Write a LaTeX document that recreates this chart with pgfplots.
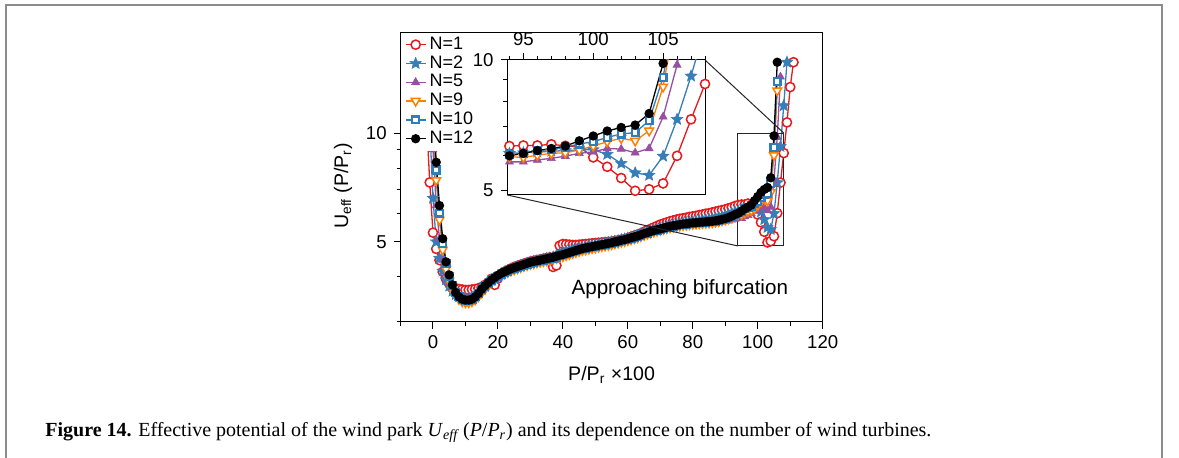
\documentclass[border=0pt]{standalone}
\usepackage{graphicx}
\usepackage{pgfplots}
\usepackage{pgfplotstable}
\pgfplotsset{compat=1.18}
\usepackage{fontspec}
\setmainfont{Liberation Sans}
\newfontfamily\capfont{Liberation Serif}
\usetikzlibrary{plotmarks}

\definecolor{cR}{HTML}{E41A1C}
\definecolor{cB}{HTML}{377EB8}
\definecolor{cP}{HTML}{984EA3}
\definecolor{cO}{HTML}{FF7F00}
\definecolor{cS}{HTML}{2F7DBD}

\pgfdeclareplotmark{fstar}{%
  \pgfpathmoveto{\pgfpointpolar{90}{\pgfplotmarksize}}%
  \pgfpathlineto{\pgfpointpolar{126}{0.45\pgfplotmarksize}}%
  \pgfpathlineto{\pgfpointpolar{162}{\pgfplotmarksize}}%
  \pgfpathlineto{\pgfpointpolar{198}{0.45\pgfplotmarksize}}%
  \pgfpathlineto{\pgfpointpolar{234}{\pgfplotmarksize}}%
  \pgfpathlineto{\pgfpointpolar{270}{0.45\pgfplotmarksize}}%
  \pgfpathlineto{\pgfpointpolar{306}{\pgfplotmarksize}}%
  \pgfpathlineto{\pgfpointpolar{342}{0.45\pgfplotmarksize}}%
  \pgfpathlineto{\pgfpointpolar{18}{\pgfplotmarksize}}%
  \pgfpathlineto{\pgfpointpolar{54}{0.45\pgfplotmarksize}}%
  \pgfpathclose
  \pgfusepathqfillstroke
}

\pgfplotsset{
  sR/.style={color=cR, line width=0.65pt, mark=*, mark size=2.3pt, mark options={fill=white, draw=cR, line width=0.75pt}},
  sB/.style={color=cB, line width=0.65pt, mark=fstar, mark size=3.0pt, mark options={fill=cB, draw=cB, line width=0.3pt}},
  sP/.style={color=cP, line width=0.65pt, mark=triangle*, mark size=2.3pt, mark options={fill=cP, draw=cP, line width=0.3pt}},
  sO/.style={color=cO, line width=0.65pt, mark=triangle*, mark size=2.5pt, mark options={rotate=180, fill=white, draw=cO, line width=0.75pt}},
  sS/.style={color=cS, line width=0.65pt, mark=square*, mark size=1.7pt, mark options={fill=white, draw=cS, line width=1.15pt}},
  sK/.style={color=black, line width=0.65pt, mark=*, mark size=2.0pt, mark options={fill=black, draw=black}},
}

% N=1
\pgfplotstableread{
x y
-2 11.0
-1 7.3
0 5.3
1 4.78
2 4.45
3 4.13
4 3.95
5 3.83
6 3.76
7 3.72
8 3.70
9 3.69
10 3.68
11 3.68
12 3.69
13 3.70
14 3.72
15 3.75
16 3.80
17 3.86
18 3.95
19 3.80
20 3.96
21 4.08
22 4.13
23 4.18
24 4.22
25 4.26
26 4.29
27 4.32
28 4.35
29 4.38
30 4.41
31 4.43
32 4.45
33 4.47
34 4.49
35 4.51
36 4.53
37 4.26
38 4.30
39 4.88
40 4.93
41 4.92
42 4.91
43 4.90
44 4.90
45 4.91
46 4.92
47 4.93
48 4.94
49 4.95
50 4.96
51 4.97
52 4.98
53 4.99
54 5.00
55 5.01
56 5.03
57 5.05
58 5.07
59 5.09
60 5.12
61 5.16
62 5.20
63 5.24
64 5.28
65 5.33
66 5.38
67 5.43
68 5.48
69 5.53
70 5.58
71 5.62
72 5.66
73 5.70
74 5.73
75 5.76
76 5.79
77 5.81
78 5.83
79 5.86
80 5.88
81 5.90
82 5.93
83 5.95
84 5.98
85 6.00
86 6.03
87 6.06
88 6.09
89 6.12
90 6.15
91 6.19
92 6.23
93 6.28
94 6.32
95 6.34
96 6.34
97 6.38
98 6.33
99 6.30
100 5.95
101 5.66
102 5.33
103 4.98
104 5.02
105 5.18
106 6.00
107 7.29
108 8.80
109 10.7
110 13.4
111 15.7
}\dR

% N=2
\pgfplotstableread{
x y
-1 10.5
0 6.6
1 5.0
2 4.5
3 4.15
4 3.93
5 3.77
6 3.65
7 3.57
8 3.52
9 3.49
10 3.48
11 3.49
12 3.51
13 3.55
14 3.61
15 3.69
16 3.77
17 3.84
18 3.91
19 3.97
20 4.03
21 4.08
22 4.12
23 4.16
24 4.20
25 4.23
26 4.27
27 4.30
28 4.33
29 4.36
30 4.39
31 4.41
32 4.43
33 4.45
34 4.47
35 4.49
36 4.51
37 4.54
38 4.58
39 4.63
40 4.67
41 4.70
42 4.73
43 4.76
44 4.78
45 4.80
46 4.82
47 4.84
48 4.86
49 4.88
50 4.90
51 4.92
52 4.94
53 4.96
54 4.98
55 5.00
56 5.02
57 5.04
58 5.07
59 5.09
60 5.12
61 5.15
62 5.18
63 5.21
64 5.25
65 5.29
66 5.32
67 5.36
68 5.39
69 5.42
70 5.45
71 5.48
72 5.51
73 5.54
74 5.57
75 5.59
76 5.61
77 5.63
78 5.65
79 5.67
80 5.69
81 5.70
82 5.72
83 5.73
84 5.75
85 5.77
86 5.79
87 5.81
88 5.84
89 5.87
90 5.91
91 5.95
92 5.99
93 6.04
94 6.08
95 6.10
96 6.12
97 6.15
98 6.17
99 6.19
100 6.20
101 6.05
102 5.76
103 5.48
104 5.41
105 5.99
106 7.29
107 9.18
108 11.9
109 15.7
}\dB

% N=5
\pgfplotstableread{
x y
0 9.0
1 6.3
2 5.1
3 4.45
4 4.08
5 3.85
6 3.70
7 3.60
8 3.53
9 3.49
10 3.48
11 3.48
12 3.50
13 3.54
14 3.60
15 3.68
16 3.76
17 3.83
18 3.90
19 3.96
20 4.02
21 4.07
22 4.11
23 4.15
24 4.19
25 4.22
26 4.26
27 4.29
28 4.32
29 4.35
30 4.38
31 4.40
32 4.42
33 4.44
34 4.46
35 4.48
36 4.50
37 4.53
38 4.56
39 4.60
40 4.63
41 4.66
42 4.69
43 4.72
44 4.75
45 4.77
46 4.80
47 4.82
48 4.84
49 4.86
50 4.88
51 4.90
52 4.92
53 4.94
54 4.96
55 4.98
56 5.00
57 5.02
58 5.05
59 5.07
60 5.10
61 5.13
62 5.16
63 5.19
64 5.23
65 5.27
66 5.30
67 5.34
68 5.37
69 5.40
70 5.43
71 5.46
72 5.48
73 5.51
74 5.53
75 5.55
76 5.56
77 5.57
78 5.58
79 5.59
80 5.60
81 5.60
82 5.61
83 5.61
84 5.62
85 5.62
86 5.63
87 5.64
88 5.66
89 5.68
90 5.70
91 5.72
92 5.75
93 5.78
94 5.81
95 5.81
96 5.87
97 5.92
98 5.99
99 6.08
100 6.13
101 6.24
102 6.22
103 6.10
104 6.24
105 7.39
106 9.74
107 14.3
}\dP

% N=9
\pgfplotstableread{
x y
0 10.5
1 7.4
2 5.75
3 4.75
4 4.2
5 3.9
6 3.68
7 3.55
8 3.47
9 3.42
10 3.40
11 3.40
12 3.42
13 3.46
14 3.53
15 3.62
16 3.70
17 3.78
18 3.86
19 3.93
20 3.99
21 4.04
22 4.08
23 4.12
24 4.16
25 4.19
26 4.22
27 4.25
28 4.28
29 4.31
30 4.34
31 4.36
32 4.38
33 4.40
34 4.42
35 4.44
36 4.46
37 4.48
38 4.51
39 4.54
40 4.56
41 4.59
42 4.62
43 4.65
44 4.68
45 4.71
46 4.74
47 4.76
48 4.78
49 4.80
50 4.82
51 4.84
52 4.86
53 4.88
54 4.90
55 4.92
56 4.95
57 4.97
58 5.00
59 5.02
60 5.05
61 5.08
62 5.11
63 5.14
64 5.18
65 5.22
66 5.26
67 5.30
68 5.33
69 5.36
70 5.39
71 5.42
72 5.45
73 5.48
74 5.50
75 5.52
76 5.54
77 5.56
78 5.57
79 5.59
80 5.60
81 5.61
82 5.62
83 5.63
84 5.64
85 5.65
86 5.66
87 5.68
88 5.70
89 5.73
90 5.76
91 5.80
92 5.85
93 5.91
94 5.97
95 5.95
96 6.02
97 6.08
98 6.10
99 6.19
100 6.32
101 6.47
102 6.59
103 6.50
104 6.86
105 8.67
106 13.1
}\dO

% N=10
\pgfplotstableread{
x y
0 11.5
1 7.9
2 6.0
3 4.95
4 4.35
5 4.0
6 3.78
7 3.62
8 3.52
9 3.47
10 3.45
11 3.45
12 3.47
13 3.52
14 3.59
15 3.68
16 3.76
17 3.83
18 3.90
19 3.96
20 4.02
21 4.07
22 4.11
23 4.15
24 4.19
25 4.22
26 4.25
27 4.28
28 4.31
29 4.34
30 4.37
31 4.39
32 4.41
33 4.43
34 4.45
35 4.47
36 4.49
37 4.51
38 4.54
39 4.57
40 4.60
41 4.63
42 4.66
43 4.69
44 4.72
45 4.75
46 4.78
47 4.80
48 4.82
49 4.84
50 4.86
51 4.88
52 4.90
53 4.92
54 4.94
55 4.96
56 4.99
57 5.01
58 5.04
59 5.06
60 5.09
61 5.12
62 5.15
63 5.18
64 5.22
65 5.26
66 5.29
67 5.33
68 5.36
69 5.39
70 5.42
71 5.45
72 5.48
73 5.51
74 5.53
75 5.55
76 5.57
77 5.59
78 5.60
79 5.62
80 5.63
81 5.64
82 5.65
83 5.66
84 5.67
85 5.68
86 5.69
87 5.71
88 5.73
89 5.76
90 5.79
91 5.83
92 5.88
93 5.95
94 6.03
95 6.08
96 6.17
97 6.21
98 6.28
99 6.39
100 6.47
101 6.62
102 6.74
103 6.79
104 7.24
105 9.12
106 13.9
}\dS

% N=12
\pgfplotstableread{
x y
0 12.0
1 8.3
2 6.3
3 5.1
4 4.4
5 4.05
6 3.80
7 3.62
8 3.52
9 3.47
10 3.45
11 3.45
12 3.47
13 3.52
14 3.60
15 3.70
16 3.78
17 3.85
18 3.92
19 3.98
20 4.04
21 4.09
22 4.13
23 4.17
24 4.21
25 4.24
26 4.27
27 4.30
28 4.33
29 4.36
30 4.39
31 4.41
32 4.43
33 4.45
34 4.47
35 4.49
36 4.51
37 4.53
38 4.56
39 4.59
40 4.61
41 4.64
42 4.67
43 4.70
44 4.73
45 4.76
46 4.79
47 4.81
48 4.83
49 4.85
50 4.87
51 4.89
52 4.91
53 4.93
54 4.95
55 4.97
56 5.00
57 5.02
58 5.05
59 5.07
60 5.10
61 5.13
62 5.16
63 5.19
64 5.23
65 5.27
66 5.30
67 5.34
68 5.37
69 5.40
70 5.43
71 5.46
72 5.49
73 5.52
74 5.54
75 5.56
76 5.58
77 5.60
78 5.61
79 5.63
80 5.64
81 5.65
82 5.66
83 5.67
84 5.68
85 5.69
86 5.70
87 5.72
88 5.74
89 5.77
90 5.80
91 5.84
92 5.89
93 5.95
94 6.00
95 6.08
96 6.17
97 6.24
98 6.32
99 6.50
100 6.67
101 6.85
102 6.98
103 7.07
104 7.52
105 9.82
106 15.7
}\dK

\begin{document}
\begin{tikzpicture}
\useasboundingbox (0,0) rectangle (589.5pt,229pt);
% figure frame (open at the bottom)
\draw[black!45, line width=1pt] (3pt,-2pt) -- (3pt,226.5pt) -- (581pt,226.5pt) -- (581pt,-2pt);

\begin{axis}[
  name=main,
  at={(200.25pt,68pt)}, anchor=south west,
  width=211.1pt, height=144.85pt, scale only axis,
  xmin=-10, xmax=120, ymin=3, ymax=19,
  ymode=log,
  xtick={0,20,...,120}, minor xtick={-10,10,...,110},
  ytick={5,10}, yticklabels={5,10}, minor ytick={3,4,6,7,8,9},
  tick align=outside, xtick pos=bottom, ytick pos=left,
  major tick length=3.4pt, minor tick length=2pt,
  every tick/.style={black, line width=0.5pt},
  axis line style={black, line width=0.5pt},
  tick label style={font=\fontsize{9.3}{10}\selectfont},
  /pgf/number format/assume math mode=true,
  xlabel={P/P\textsubscript{r} ×100},
  ylabel={U\textsubscript{eff} (P/P\textsubscript{r})},
  label style={font=\fontsize{9.8}{11}\selectfont},
  xlabel style={at={(axis description cs:0.5,-0.183)}, anchor=center},
  ylabel style={at={(axis description cs:-0.136,0.47)}, anchor=center},
  legend style={at={(axis description cs:0.005,0.999)}, anchor=north west,
    draw=none, fill=white, font=\fontsize{9}{10}\selectfont,
    inner xsep=1pt, inner ysep=1pt, row sep=-0.35pt,
    nodes={inner xsep=1.6pt, inner ysep=1pt}},
  legend cell align=left,
  legend image code/.code={\draw[mark repeat=2,mark phase=2,#1] plot coordinates {(0pt,0pt) (5pt,0pt) (10pt,0pt)};},
]
\addplot[sR] table {\dR};
\addplot[sB] table {\dB};
\addplot[sP] table {\dP};
\addplot[sO] table {\dO};
\addplot[sS] table {\dS};
\addplot[sK] table {\dK};
\legend{N=1,N=2,N=5,N=9,N=10,N=12}
\draw[black!85, line width=0.5pt] (axis cs:93.85,4.87) rectangle (axis cs:108,10);
\coordinate (zTR) at (axis cs:108,10);
\coordinate (zBL) at (axis cs:93.85,4.87);
\node[font=\fontsize{10.3}{12}\selectfont] at (axis cs:76,3.70) {Approaching bifurcation};
\end{axis}

\begin{axis}[
  name=inset,
  at={(253.65pt,131.5pt)}, anchor=south west,
  width=98.85pt, height=67.5pt, scale only axis,
  xmin=93.85, xmax=108, ymin=4.87, ymax=10,
  ymode=log,
  xtick={95,100,105}, minor xtick={94,...,108},
  ytick={5,10}, yticklabels={5,10}, minor ytick={6,7,8,9},
  tick align=outside, xtick pos=top, ytick pos=left, xticklabel pos=top,
  major tick length=3.4pt, minor tick length=2pt,
  every tick/.style={black, line width=0.5pt},
  axis line style={black, line width=0.5pt},
  tick label style={font=\fontsize{9.3}{10}\selectfont},
  /pgf/number format/assume math mode=true,
  axis background/.style={fill=white},
]
\addplot[sR] table {\dR};
\addplot[sB] table {\dB};
\addplot[sP] table {\dP};
\addplot[sO] table {\dO};
\addplot[sS] table {\dS};
\addplot[sK] table {\dK};
\coordinate (iTR) at (rel axis cs:1,1);
\coordinate (iBL) at (rel axis cs:0,0);
\end{axis}
\draw[black!85, line width=0.5pt] (iTR) -- (zTR);
\draw[black!85, line width=0.5pt] (iBL) -- (zBL);

\node[anchor=base west, inner sep=0pt] at (22.5pt,10.5pt) {\resizebox{443pt}{\height}{\capfont\fontsize{10}{12}\selectfont\textbf{Figure 14.} Effective potential of the wind park \textit{U}\textsubscript{\textit{eff}}\,(\textit{P}/\textit{P}\textsubscript{\textit{r}}) and its dependence on the number of wind turbines.}};
\end{tikzpicture}
\end{document}
